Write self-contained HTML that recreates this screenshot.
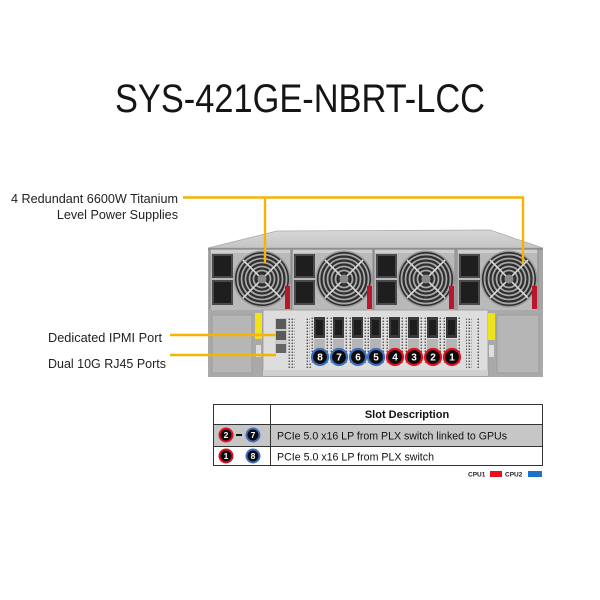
<!DOCTYPE html>
<html>
<head>
<meta charset="utf-8">
<style>
html,body{margin:0;padding:0;background:#fff;}
svg{display:block;}
</style>
</head>
<body>
<svg width="600" height="600" viewBox="0 0 600 600" xmlns="http://www.w3.org/2000/svg" font-family="'Liberation Sans', Arial, sans-serif">
<defs>
  <pattern id="vent" width="3" height="3" patternUnits="userSpaceOnUse">
    <rect width="3" height="3" fill="#e6e6e6"/>
    <rect x="0.5" y="0.5" width="1.6" height="1.6" fill="#5a5a5a"/>
  </pattern>
  <linearGradient id="topg" x1="0" y1="0" x2="0" y2="1">
    <stop offset="0" stop-color="#d8d8d8"/>
    <stop offset="1" stop-color="#c4c4c4"/>
  </linearGradient>
  <g id="fan">
    <circle r="28.5" fill="#9a9a9a"/>
    <circle r="27" fill="#2e2e2e"/>
    <g fill="none" stroke="#a8a8a8" stroke-width="1.8">
      <circle r="24.5"/>
      <circle r="20.5"/>
      <circle r="16.5"/>
      <circle r="12.5"/>
      <circle r="8.5"/>
    </g>
    <g stroke="#d8d8d8" stroke-width="1.6">
      <line x1="-19" y1="-19" x2="19" y2="19"/>
      <line x1="19" y1="-19" x2="-19" y2="19"/>
    </g>
    <circle r="4.5" fill="#8a8a8a"/>
  </g>
  <g id="psu">
    <rect x="0" y="0" width="81" height="62" fill="#b9b9b9" stroke="#8c8c8c" stroke-width="1"/>
    <rect x="1" y="1" width="79" height="3" fill="#cfcfcf"/>
    <rect x="2" y="5" width="21" height="24" fill="#4a4a4a"/>
    <rect x="4" y="7" width="17" height="20" fill="#1e1e1e"/>
    <rect x="2" y="31" width="21" height="25" fill="#4a4a4a"/>
    <rect x="4" y="33" width="17" height="21" fill="#1e1e1e"/>
    <use href="#fan" x="52" y="30"/>
    <rect x="75" y="37" width="5" height="23" fill="#b8162a"/>
  </g>
  <g id="slot">
    <rect x="-10" y="0" width="3" height="46" fill="url(#vent)"/>
    <rect x="-6" y="0" width="11" height="21" fill="#3a3a3a"/>
    <rect x="-4" y="3" width="7" height="15" fill="#1d1d1d"/>
    <rect x="-6" y="22" width="11" height="14" fill="#b5b5b5"/>
    <rect x="6" y="0" width="3" height="46" fill="url(#vent)"/>
  </g>
</defs>

<!-- Title -->
<text x="300" y="112" text-anchor="middle" font-size="40" fill="#151515" textLength="370" lengthAdjust="spacingAndGlyphs">SYS-421GE-NBRT-LCC</text>

<!-- Chassis -->
<polygon points="208,248 277,231 490,230 543,248" fill="url(#topg)" stroke="#aaa" stroke-width="0.8"/>
<rect x="208" y="248" width="335" height="129" fill="#a6a6a6"/>
<rect x="208" y="248" width="335" height="2" fill="#8f8f8f"/>

<!-- PSUs -->
<use href="#psu" x="210" y="249"/>
<use href="#psu" x="292" y="249"/>
<use href="#psu" x="374" y="249"/>
<use href="#psu" x="457" y="249"/>

<!-- Lower section -->
<rect x="208" y="310" width="335" height="67" fill="#a9a9a9"/>
<rect x="212" y="315" width="40" height="58" fill="#b6b6b6" stroke="#999" stroke-width="0.8"/>
<rect x="255" y="313" width="7" height="26" fill="#efe21c"/>
<rect x="256" y="345" width="5" height="12" fill="#dedede"/>
<rect x="263" y="310" width="225" height="66" fill="#dddddd" stroke="#9a9a9a" stroke-width="0.8"/>
<rect x="263" y="370" width="225" height="6" fill="#cfcfcf"/>
<!-- LAN ports -->
<rect x="275" y="318" width="12" height="35" fill="#c8c8c8"/>
<rect x="276" y="319" width="10" height="10" fill="#5a5a5a"/>
<rect x="276" y="331" width="10" height="9" fill="#5a5a5a"/>
<rect x="276" y="344" width="10" height="9" fill="#666"/>
<!-- vents -->
<rect x="288" y="317" width="7" height="51" fill="url(#vent)"/>
<rect x="305" y="317" width="6" height="51" fill="url(#vent)"/>
<rect x="466" y="317" width="6" height="51" fill="url(#vent)"/>
<rect x="476" y="317" width="4" height="51" fill="url(#vent)"/>
<!-- slots -->
<use href="#slot" x="320" y="317"/>
<use href="#slot" x="339" y="317"/>
<use href="#slot" x="358" y="317"/>
<use href="#slot" x="376" y="317"/>
<use href="#slot" x="395" y="317"/>
<use href="#slot" x="414" y="317"/>
<use href="#slot" x="433" y="317"/>
<use href="#slot" x="452" y="317"/>
<!-- slot numbers -->
<g font-weight="bold" font-size="10" text-anchor="middle" fill="#fff">
  <g stroke-width="2.2">
    <circle cx="320" cy="357" r="8" fill="#0c0c0c" stroke="#3d6fc2"/>
    <circle cx="339" cy="357" r="8" fill="#0c0c0c" stroke="#3d6fc2"/>
    <circle cx="358" cy="357" r="8" fill="#0c0c0c" stroke="#3d6fc2"/>
    <circle cx="376" cy="357" r="8" fill="#0c0c0c" stroke="#3d6fc2"/>
    <circle cx="395" cy="357" r="8" fill="#0c0c0c" stroke="#e01020"/>
    <circle cx="414" cy="357" r="8" fill="#0c0c0c" stroke="#e01020"/>
    <circle cx="433" cy="357" r="8" fill="#0c0c0c" stroke="#e01020"/>
    <circle cx="452" cy="357" r="8" fill="#0c0c0c" stroke="#e01020"/>
  </g>
  <text x="320" y="360.5">8</text>
  <text x="339" y="360.5">7</text>
  <text x="358" y="360.5">6</text>
  <text x="376" y="360.5">5</text>
  <text x="395" y="360.5">4</text>
  <text x="414" y="360.5">3</text>
  <text x="433" y="360.5">2</text>
  <text x="452" y="360.5">1</text>
</g>
<rect x="488" y="313" width="7" height="27" fill="#efe21c"/>
<rect x="489" y="345" width="5" height="12" fill="#dedede"/>
<rect x="497" y="315" width="42" height="58" fill="#b6b6b6" stroke="#999" stroke-width="0.8"/>

<!-- Callout lines -->
<g stroke="#f5b400" stroke-width="2.4" fill="none">
  <polyline points="183,197.5 523,197.5 523,263"/>
  <line x1="265" y1="197.5" x2="265" y2="263"/>
  <line x1="170" y1="335" x2="276" y2="335"/>
  <line x1="170" y1="355" x2="276" y2="355"/>
</g>

<!-- Labels -->
<g font-size="12.6" fill="#222" text-anchor="end">
  <text x="178" y="203" textLength="167" lengthAdjust="spacingAndGlyphs">4 Redundant 6600W Titanium</text>
  <text x="178" y="219">Level Power Supplies</text>
  <text x="162" y="342" textLength="114" lengthAdjust="spacingAndGlyphs">Dedicated IPMI Port</text>
  <text x="166" y="368" textLength="118" lengthAdjust="spacingAndGlyphs">Dual 10G RJ45 Ports</text>
</g>

<!-- Table -->
<rect x="213" y="424" width="330" height="22" fill="#c6c6c6"/>
<g stroke="#333" stroke-width="1" fill="none">
  <rect x="213.5" y="404.5" width="329" height="61"/>
  <line x1="270.5" y1="404.5" x2="270.5" y2="465.5"/>
  <line x1="213.5" y1="424.5" x2="542.5" y2="424.5"/>
  <line x1="213.5" y1="446.5" x2="542.5" y2="446.5"/>
</g>
<text x="407" y="418" text-anchor="middle" font-size="11" font-weight="bold" fill="#111">Slot Description</text>
<g font-size="10.8" fill="#111">
  <text x="277" y="439.5" textLength="230" lengthAdjust="spacingAndGlyphs">PCIe 5.0 x16 LP from PLX switch linked to GPUs</text>
  <text x="277" y="460.5" textLength="157" lengthAdjust="spacingAndGlyphs">PCIe 5.0 x16 LP from PLX switch</text>
</g>
<g font-weight="bold" font-size="8.5" text-anchor="middle" fill="#fff">
  <g stroke-width="2">
    <circle cx="226" cy="435" r="6.5" fill="#0c0c0c" stroke="#e01020"/>
    <circle cx="253" cy="435" r="6.5" fill="#0c0c0c" stroke="#3d6fc2"/>
    <circle cx="226" cy="456" r="6.5" fill="#0c0c0c" stroke="#e01020"/>
    <circle cx="253" cy="456" r="6.5" fill="#0c0c0c" stroke="#3d6fc2"/>
  </g>
  <text x="226" y="438">2</text>
  <text x="253" y="438">7</text>
  <text x="226" y="459">1</text>
  <text x="253" y="459">8</text>
</g>
<rect x="236" y="434" width="6" height="2" fill="#111"/>

<!-- CPU legend -->
<g font-size="6.5" font-weight="bold" fill="#222">
  <text x="468" y="476.5">CPU1</text>
  <text x="505" y="476.5">CPU2</text>
</g>
<rect x="490" y="471" width="12" height="6" fill="#e8101c"/>
<rect x="528" y="471" width="14" height="6" fill="#1a73c8"/>
</svg>
</body>
</html>
